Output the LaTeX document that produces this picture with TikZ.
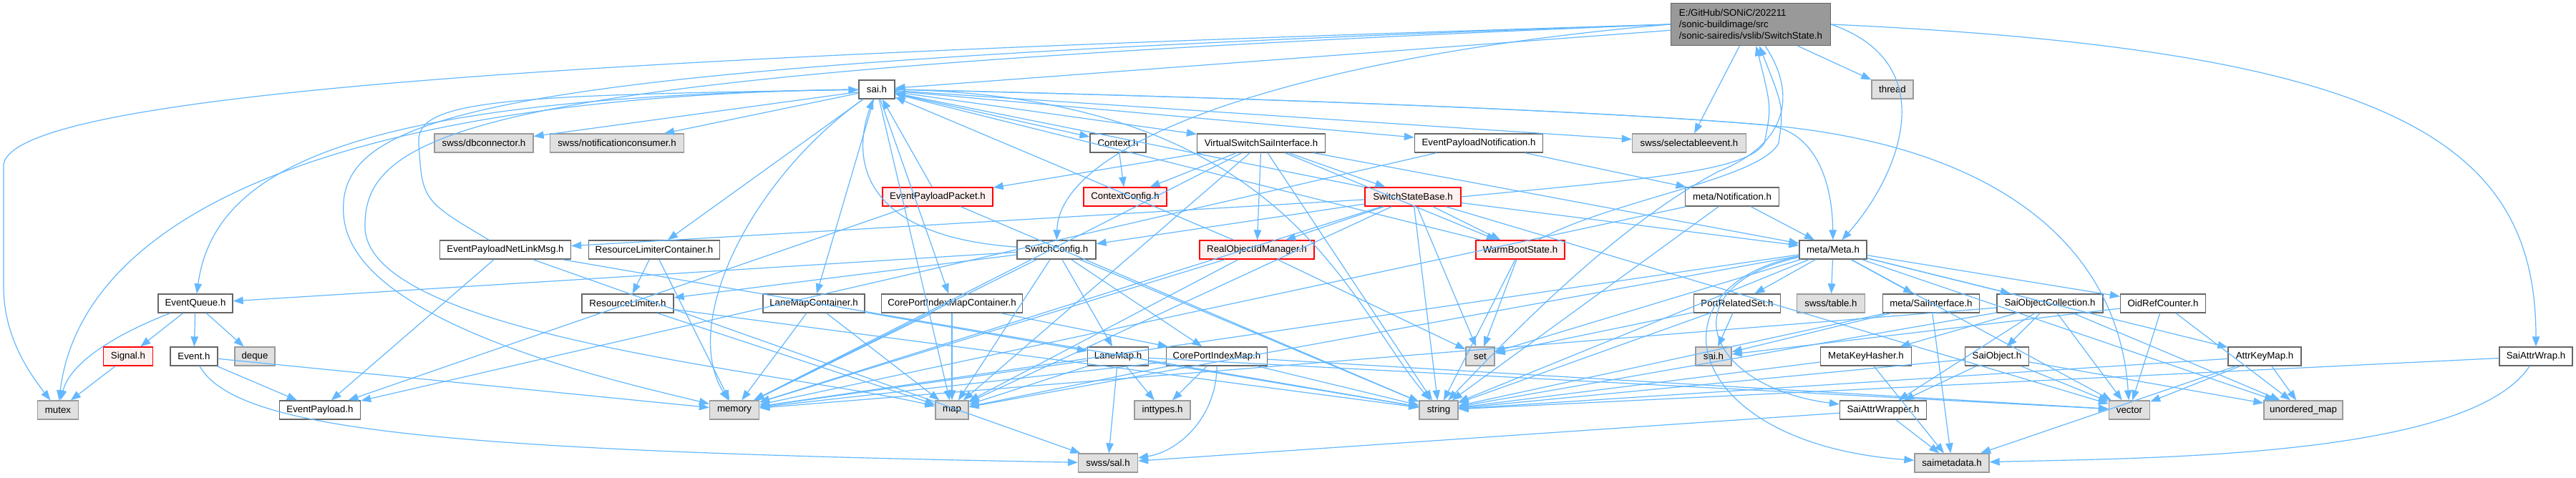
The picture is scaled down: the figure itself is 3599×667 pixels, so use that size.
\documentclass[tikz,border=0pt]{standalone}
\usepackage{fontspec}
\setmainfont{Liberation Sans}
\usetikzlibrary{arrows.meta}

\definecolor{edgeblue}{HTML}{63B8FF}
\definecolor{boxline}{HTML}{666666}
\definecolor{rootgray}{HTML}{999999}
\definecolor{sysfill}{HTML}{E0E0E0}
\definecolor{sysline}{HTML}{999999}
\definecolor{truncfill}{HTML}{FFF0F0}

\newdimen\pxu \pxu=0.25mm

\begin{document}
\begin{tikzpicture}[
    x=0.25mm, y=-0.25mm,
    font=\fontsize{9.45pt}{11.3pt}\selectfont,
    box/.style={
      line width=0.33mm,
      minimum height=26\pxu,
      inner sep=0pt
    },
    inc/.style={box, draw=boxline, fill=white, minimum width=#1\pxu},
    sys/.style={box, draw=sysline, fill=sysfill, minimum width=#1\pxu},
    trunc/.style={box, draw=red, fill=truncfill, minimum width=#1\pxu},
    rootfile/.style={box, draw=boxline, fill=rootgray, align=left,
      minimum width=223\pxu, minimum height=59\pxu},
    dep/.style={draw=edgeblue, line width=0.3mm,
      -{Triangle[length=3.5mm, width=2.6mm]}}
  ]

\path[fill=white] (0,0) rectangle (3599,667);

% --- the headers, row by row ---
\node[rootfile] (ss) at (2446,34) {E:/GitHub/SONiC/202211\\/sonic-buildimage/src\\/sonic-sairedis/vslib/SwitchState.h};

\node[inc=50] (sai) at (1225,125) {sai.h};
\node[sys=58] (thread) at (2644,125) {thread};

\node[sys=138] (dbconn) at (676,200) {swss/dbconnector.h};
\node[sys=187] (notifcons) at (862,200) {swss/notificationconsumer.h};
\node[inc=78] (context) at (1562,200) {Context.h};
\node[inc=179] (vssi) at (1762,200) {VirtualSwitchSaiInterface.h};
\node[inc=179] (epnotif) at (2066,200) {EventPayloadNotification.h};
\node[sys=159] (selev) at (2360,200) {swss/selectableevent.h};

\node[trunc=154] (eppacket) at (1310,275) {EventPayloadPacket.h};
\node[trunc=116] (ctxconfig) at (1572,275) {ContextConfig.h};
\node[trunc=134] (ssbase) at (1974,275) {SwitchStateBase.h};
\node[inc=131] (metanotif) at (2420,275) {meta/Notification.h};

\node[inc=183] (epnetlink) at (706,349) {EventPayloadNetLinkMsg.h};
\node[inc=183] (rlcontainer) at (914,349) {ResourceLimiterContainer.h};
\node[inc=110] (swconfig) at (1476,349) {SwitchConfig.h};
\node[trunc=160] (realoid) at (1756,349) {RealObjectIdManager.h};
\node[trunc=124] (warmboot) at (2124,349) {WarmBootState.h};
\node[inc=94] (metameta) at (2561,349) {meta/Meta.h};

\node[inc=104] (evq) at (273,424) {EventQueue.h};
\node[inc=128] (rlimiter) at (877,424) {ResourceLimiter.h};
\node[inc=142] (lanemapc) at (1137,424) {LaneMapContainer.h};
\node[inc=197] (coreportc) at (1330,424) {CorePortIndexMapContainer.h};
\node[inc=121] (portrelset) at (2427,424) {PortRelatedSet.h};
\node[sys=95] (swsstable) at (2558,424) {swss/table.h};
\node[inc=135] (metasaiif) at (2698,424) {meta/SaiInterface.h};
\node[inc=148] (saiobjcoll) at (2864,424) {SaiObjectCollection.h};
\node[inc=119] (oidref) at (3022,424) {OidRefCounter.h};

\node[trunc=69] (signal) at (179,498) {Signal.h};
\node[inc=66] (event) at (271,498) {Event.h};
\node[sys=56] (deque) at (356,498) {deque};
\node[inc=85] (lanemap) at (1562,498) {LaneMap.h};
\node[inc=141] (coreportmap) at (1700,498) {CorePortIndexMap.h};
\node[sys=40] (set) at (2068,498) {set};
\node[sys=50] (saisys) at (2394,498) {sai.h};
\node[inc=127] (metakeyhasher) at (2607,498) {MetaKeyHasher.h};
\node[inc=89] (saiobject) at (2790,498) {SaiObject.h};
\node[inc=102] (attrkeymap) at (3164,498) {AttrKeyMap.h};
\node[inc=102] (saiattrwrap) at (3543,498) {SaiAttrWrap.h};

\node[sys=57] (mutex) at (81,573) {mutex};
\node[inc=113] (eventpayload) at (447,573) {EventPayload.h};
\node[sys=69] (memory) at (1026,573) {memory};
\node[sys=46] (map) at (1330,573) {map};
\node[sys=78] (inttypes) at (1624,573) {inttypes.h};
\node[sys=54] (string) at (2010,573) {string};
\node[inc=121] (saiattrwrapper) at (2631,573) {SaiAttrWrapper.h};
\node[sys=57] (vector) at (2975,573) {vector};
\node[sys=110] (umap) at (3218,573) {unordered\_map};

\node[sys=83] (swsssal) at (1548,647) {swss/sal.h};
\node[sys=104] (saimeta) at (2727,647) {saimetadata.h};

% --- SwitchState.h ---
\draw[dep] (ss) -- (sai);
\draw[dep] (ss.west) .. controls (1000,75) and (20,120) .. (5,230) -- (5,400) .. controls (5,470) and (40,520) .. (mutex);
\draw[dep] (ss.west) .. controls (700,90) and (470,150) .. (480,300) .. controls (490,450) and (850,530) .. (memory);
\draw[dep] (ss.west) .. controls (700,100) and (505,170) .. (510,320) .. controls (520,470) and (1100,520) .. (map);
\draw[dep] (ss.west) .. controls (1800,80) and (1480,200) .. (swconfig);
\draw[dep] (ss) -- (selev);
\draw[dep] (ss) -- (thread);
\draw[dep] (ss) .. controls (2510,130) and (2500,200) .. (2400,240) .. controls (2250,320) and (2100,480) .. (string);
\draw[dep] (ss.east) .. controls (2720,90) and (2650,250) .. (metameta);
\draw[dep] (ss.east) .. controls (3350,70) and (3543,200) .. (saiattrwrap);

% --- sai.h ---
\draw[dep] (sai) -- (dbconn);
\draw[dep] (sai) -- (notifcons);
\draw[dep] (sai) -- (context);
\draw[dep] (sai) -- (vssi);
\draw[dep] (sai) -- (epnotif);
\draw[dep] (sai) -- (selev);
\draw[dep] (sai) -- (lanemapc);
\draw[dep] (sai) -- (coreportc);
\draw[dep] (sai) -- (rlcontainer);
\draw[dep] (sai.east) .. controls (1800,135) and (1880,420) .. (string);
\draw[dep] (sai) -- (map);
\draw[dep] (sai) .. controls (1050,250) and (950,450) .. (memory);
\draw[dep] (sai.east) .. controls (1900,140) and (2300,160) .. (2470,175) .. controls (2800,205) and (2960,350) .. (vector);
\draw[dep] (sai.east) .. controls (1900,140) and (2300,160) .. (2470,175) .. controls (2540,185) and (2560,260) .. (metameta);
\draw[dep] (sai.west) .. controls (500,135) and (300,230) .. (evq);
\draw[dep] (sai.west) .. controls (400,135) and (110,330) .. (mutex);

% --- second row ---
\draw[dep] (context) -- (ctxconfig);
\draw[dep] (vssi) -- (eppacket);
\draw[dep] (vssi) -- (ctxconfig);
\draw[dep] (vssi) -- (ssbase);
\draw[dep] (vssi) -- (realoid);
\draw[dep] (vssi) -- (warmboot);
\draw[dep] (vssi) -- (string);
\draw[dep] (vssi) -- (map);
\draw[dep] (vssi) -- (memory);
\draw[dep] (vssi) -- (metameta);
\draw[dep] (epnotif) -- (metanotif);
\draw[dep] (epnotif) -- (eventpayload);

% --- third row ---
\draw[dep] (eppacket) -- (sai);
\draw[dep] (eppacket) -- (eventpayload);
\draw[dep] (eppacket) -- (string);
\draw[dep] (ssbase.east) .. controls (2300,250) and (2440,240) .. (2465,200) .. controls (2475,150) .. (ss);
\draw[dep] (ssbase) -- (sai);
\draw[dep] (ssbase) -- (swconfig);
\draw[dep] (ssbase) -- (realoid);
\draw[dep] (ssbase) -- (warmboot);
\draw[dep] (ssbase) -- (set);
\draw[dep] (ssbase) -- (epnetlink);
\draw[dep] (ssbase) -- (string);
\draw[dep] (ssbase) -- (memory);
\draw[dep] (ssbase) -- (map);
\draw[dep] (ssbase) -- (vector);
\draw[dep] (ssbase) -- (metameta);
\draw[dep] (metanotif) -- (metameta);
\draw[dep] (metanotif) -- (string);
\draw[dep] (metanotif) -- (memory);

% --- fourth row ---
\draw[dep] (epnetlink) .. controls (590,280) .. (585,200) .. controls (580,140) and (700,133) .. (sai);
\draw[dep] (epnetlink) -- (eventpayload);
\draw[dep] (epnetlink) -- (swsssal);
\draw[dep] (epnetlink) -- (string);
\draw[dep] (rlcontainer) -- (rlimiter);
\draw[dep] (rlcontainer) -- (memory);
\draw[dep] (swconfig) .. controls (1200,330) and (1190,220) .. (sai);
\draw[dep] (swconfig) -- (evq);
\draw[dep] (swconfig) -- (lanemap);
\draw[dep] (swconfig) -- (coreportmap);
\draw[dep] (swconfig) -- (rlimiter);
\draw[dep] (swconfig) -- (memory);
\draw[dep] (swconfig) -- (map);
\draw[dep] (swconfig) -- (string);
\draw[dep] (realoid) -- (sai);
\draw[dep] (realoid) -- (map);
\draw[dep] (realoid) -- (set);
\draw[dep] (realoid) -- (memory);
\draw[dep] (warmboot) .. controls (2250,280) and (2460,250) .. (2485,200) .. controls (2492,150) .. (ss);
\draw[dep] (warmboot) -- (sai);
\draw[dep] (warmboot) -- (set);
\draw[dep] (warmboot) -- (string);
\draw[dep] (metameta) -- (portrelset);
\draw[dep] (metameta) -- (swsstable);
\draw[dep] (metameta) -- (metasaiif);
\draw[dep] (metameta) -- (saiobjcoll);
\draw[dep] (metameta) -- (oidref);
\draw[dep] (metameta) -- (attrkeymap);
\draw[dep] (metameta) .. controls (2330,400) and (2380,540) .. (saiattrwrapper);
\draw[dep] (metameta) .. controls (2300,400) and (2350,620) .. (saimeta);
\draw[dep] (metameta) -- (set);
\draw[dep] (metameta) -- (string);
\draw[dep] (metameta) -- (memory);
\draw[dep] (metameta) -- (map);
\draw[dep] (metameta) -- (vector);
\draw[dep] (metameta) -- (umap);

% --- fifth row ---
\draw[dep] (evq) .. controls (180,460) and (100,500) .. (mutex);
\draw[dep] (evq) -- (signal);
\draw[dep] (evq) -- (event);
\draw[dep] (evq) -- (deque);
\draw[dep] (rlimiter) -- (map);
\draw[dep] (rlimiter) -- (string);
\draw[dep] (lanemapc) -- (lanemap);
\draw[dep] (lanemapc) -- (memory);
\draw[dep] (lanemapc) -- (map);
\draw[dep] (coreportc) -- (coreportmap);
\draw[dep] (coreportc) -- (memory);
\draw[dep] (coreportc) -- (map);
\draw[dep] (portrelset) -- (saisys);
\draw[dep] (portrelset) -- (set);
\draw[dep] (portrelset) -- (string);
\draw[dep] (metasaiif) -- (saisys);
\draw[dep] (metasaiif) -- (string);
\draw[dep] (metasaiif) -- (saimeta);
\draw[dep] (saiobjcoll) -- (saiobject);
\draw[dep] (saiobjcoll) -- (metakeyhasher);
\draw[dep] (saiobjcoll) -- (saiattrwrapper);
\draw[dep] (saiobjcoll) -- (vector);
\draw[dep] (saiobjcoll) -- (umap);
\draw[dep] (saiobjcoll) -- (memory);
\draw[dep] (saiobjcoll) -- (string);
\draw[dep] (oidref) -- (vector);
\draw[dep] (oidref) -- (umap);
\draw[dep] (oidref) -- (saisys);

% --- sixth row ---
\draw[dep] (signal) -- (mutex);
\draw[dep] (event) -- (eventpayload);
\draw[dep] (event) -- (memory);
\draw[dep] (event) .. controls (330,600) and (600,630) .. (swsssal);
\draw[dep] (lanemap) -- (swsssal);
\draw[dep] (lanemap) -- (inttypes);
\draw[dep] (lanemap) -- (map);
\draw[dep] (lanemap) -- (memory);
\draw[dep] (lanemap) -- (string);
\draw[dep] (lanemap) -- (vector);
\draw[dep] (coreportmap) .. controls (1700,580) and (1650,630) .. (swsssal);
\draw[dep] (coreportmap) -- (inttypes);
\draw[dep] (coreportmap) -- (map);
\draw[dep] (coreportmap) -- (memory);
\draw[dep] (coreportmap) -- (string);
\draw[dep] (coreportmap) -- (vector);
\draw[dep] (metakeyhasher) -- (saimeta);
\draw[dep] (metakeyhasher) -- (string);
\draw[dep] (saiobject) -- (vector);
\draw[dep] (saiobject) -- (saiattrwrapper);
\draw[dep] (saiobject) -- (umap);
\draw[dep] (saiobject) -- (string);
\draw[dep] (attrkeymap) -- (vector);
\draw[dep] (attrkeymap) -- (umap);
\draw[dep] (attrkeymap) -- (saimeta);
\draw[dep] (attrkeymap) -- (string);
\draw[dep] (saiattrwrap) .. controls (3450,640) and (3000,640) .. (saimeta);
\draw[dep] (saiattrwrap) -- (string);

% --- seventh row ---
\draw[dep] (saiattrwrapper) -- (saimeta);
\draw[dep] (saiattrwrapper) -- (swsssal);

\end{tikzpicture}
\end{document}
